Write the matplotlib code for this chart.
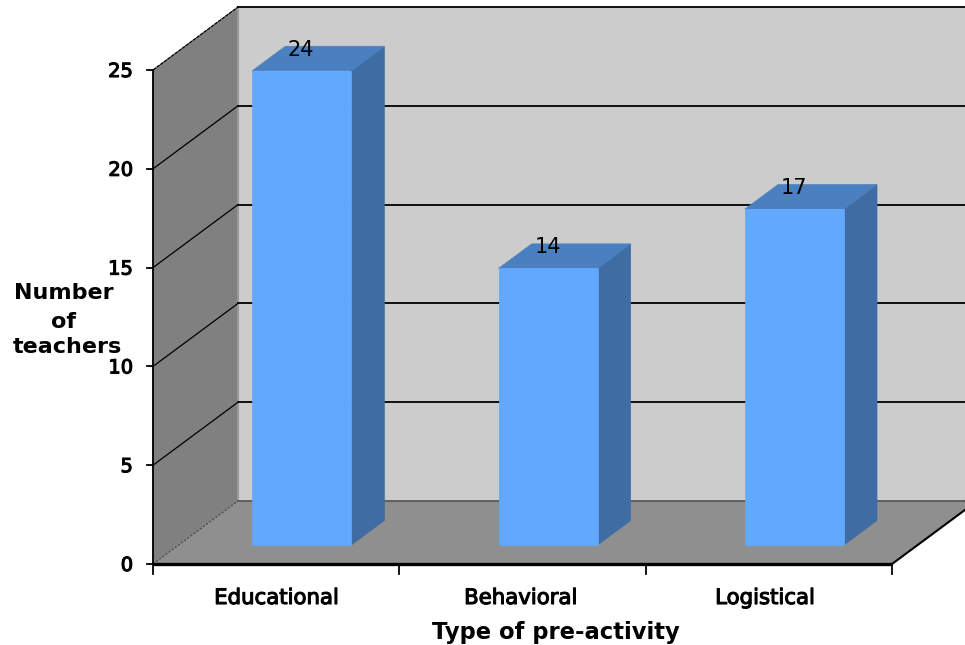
import matplotlib
matplotlib.use("Agg")
import matplotlib.pyplot as plt
from matplotlib.patches import Polygon
import matplotlib.patheffects as pe

categories = ['Educational', 'Behavioral', 'Logistical']
teachers = [24, 14, 17]
y_ticks = [0, 5, 10, 15, 20, 25]
y_title_lines = ['Number', 'of', 'teachers']

W, H = 965, 645
fig = plt.figure(figsize=(W / 100, H / 100), dpi=100, facecolor='white')
# front plane of the 3D box: x 153..892 px, y 564..70 px
ax = fig.add_axes([153 / W, 1 - 564 / H, (892 - 153) / W, (564 - 70) / H])
ax.set_xlim(0, 3)
ax.set_ylim(0, 25)
ax.axis('off')

# pixel to data sizes
px_x = 3 / (892 - 153)
px_y = 25 / (564 - 70)
depth_x = 85 * px_x
depth_y = 63 * px_y


def off(x, y, d):
    # point at depth d (0 front, 1 back)
    return (x + d * depth_x, y + d * depth_y)


def poly(pts, color, z=1):
    ax.add_patch(Polygon(pts, closed=True, facecolor=color, edgecolor=color,
                         linewidth=0.5, zorder=z, clip_on=False))


# back wall, side wall, floor
far = 3.3
poly([off(0, 0, 1), off(far, 0, 1), off(far, 25, 1), off(0, 25, 1)], '#cccccc', 1)
poly([(0, 0), off(0, 0, 1), off(0, 25, 1), (0, 25)], '#808080', 2)
poly([(0, 0), (3, 0), off(3, 0, 1), off(far, 0, 1), off(0, 0, 1)], '#8f8f8f', 2)
ax.plot([off(0, 0, 1)[0], off(0, 25, 1)[0]], [off(0, 0, 1)[1], off(0, 25, 1)[1]],
        color='#999999', lw=1.5, zorder=2.5, clip_on=False)

# gridlines
for t in y_ticks[1:]:
    x0, y0 = off(0, t, 1)
    ax.plot([x0, far], [y0, y0], color='black', lw=1.3, zorder=3, clip_on=False)
    ax.plot([0, x0], [t, y0], color='black', lw=0.9, zorder=3, clip_on=False,
            ls=(0, (3, 0.6)) if t == 25 else '-')
x0, y0 = off(0, 0, 1)
ax.plot([x0, far], [y0, y0], color='#555555', lw=1.2, zorder=3, clip_on=False)
ax.plot([0, x0], [0, y0], color='#444444', lw=0.8, ls=(0, (2, 1.5)), zorder=3, clip_on=False)

# bars
bar_w = 99 * px_x
bar_d0 = 0.30
bar_d1 = 0.69
for i, v in enumerate(teachers):
    cx = i + 0.5
    left, base = off(cx - bar_w / 2, 0, bar_d0)
    right = left + bar_w
    top = base + v
    dx = (bar_d1 - bar_d0) * depth_x
    dy = (bar_d1 - bar_d0) * depth_y
    poly([(right, base), (right + dx, base + dy), (right + dx, top + dy), (right, top)], '#3f6ca3', 5)
    poly([(left, top), (right, top), (right + dx, top + dy), (left + dx, top + dy)], '#4a80c0', 5)
    poly([(left, base), (right, base), (right, top), (left, top)], '#62a8ff', 6)
    ax.text(left + 49 * px_x, top + 21 * px_y, str(v), fontsize=15, color='black',
            ha='center', va='center', zorder=7, clip_on=False)

# axes
ax.plot([0, 0], [0, 25], color='black', lw=1.3, zorder=4, clip_on=False)
ax.plot([0, 3], [0, 0], color='black', lw=2.4, zorder=4, clip_on=False, solid_capstyle='butt')
ax.plot([3, off(3, 0, 1)[0], far], [0, off(3, 0, 1)[1], off(far - off(3, 0, 0)[0] + 3, 0, 1)[1]],
        color='black', lw=1.5, zorder=4, clip_on=False)

tick_fx = [pe.withStroke(linewidth=0.8, foreground='black')]
for t in y_ticks:
    ax.plot([-6 * px_x, 0], [t, t], color='black', lw=1.3, zorder=4, clip_on=False)
    ax.text(-20 * px_x, t - 1.5 * px_y, str(t), fontsize=14, ha='right', va='center',
            path_effects=tick_fx, clip_on=False)
for i in range(4):
    ax.plot([i, i], [0, -10 * px_y], color='black', lw=1.3, zorder=4, clip_on=False)
for i, c in enumerate(categories):
    ax.text(i + 0.5 - 2 * i * px_x, -34 * px_y, c, fontsize=15.3, ha='center', va='center',
            path_effects=tick_fx, clip_on=False)

# axis titles
title_x = [63.5, 63.5, 67.5]
title_y = [293, 322, 347]
for s, tx, ty in zip(y_title_lines, title_x, title_y):
    ax.text((tx - 153) * px_x, (564 - ty) * px_y, s, fontsize=16, fontweight='bold',
            ha='center', va='center', zorder=8, clip_on=False)
ax.text(1.636, -68 * px_y, 'Type of pre-activity', fontsize=16.3, fontweight='bold',
        ha='center', va='center', clip_on=False)

fig.savefig('out.png', dpi=100, facecolor='white')
